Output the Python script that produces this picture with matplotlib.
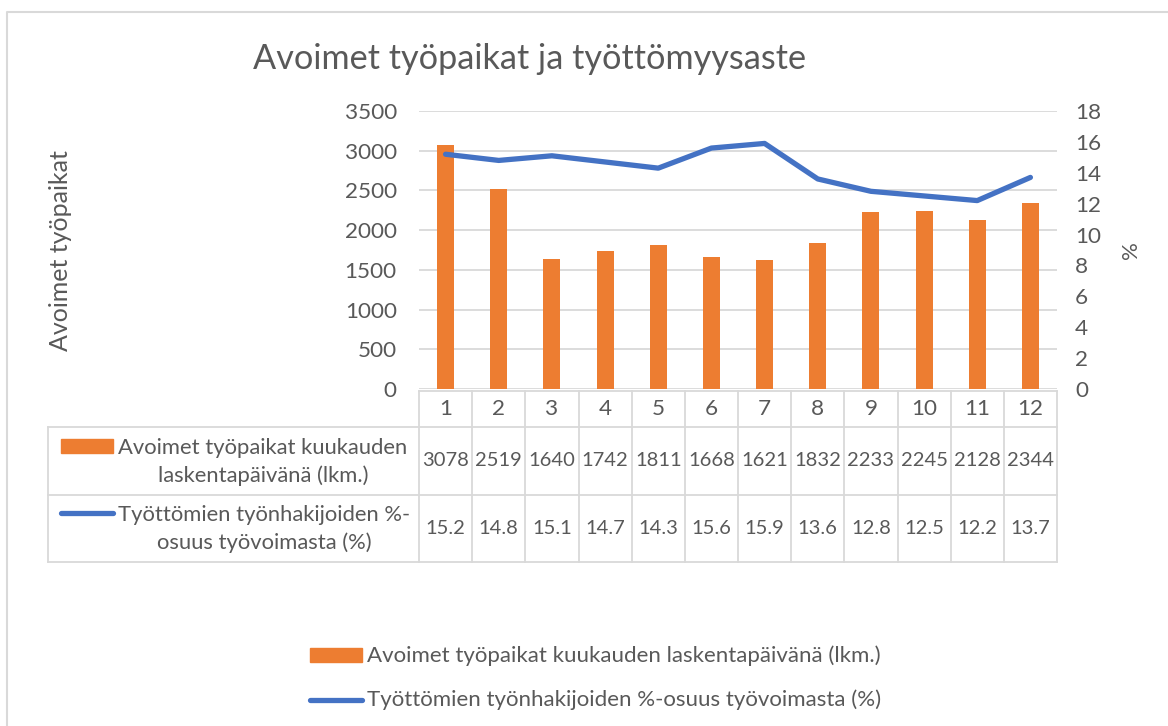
import matplotlib
matplotlib.use("Agg")
import matplotlib.pyplot as plt
from matplotlib.transforms import blended_transform_factory
from matplotlib.patches import Rectangle
from matplotlib.lines import Line2D

plt.rcParams['font.family'] = ['Lato', 'DejaVu Sans']

# ---- data ----
months = ['1', '2', '3', '4', '5', '6', '7', '8', '9', '10', '11', '12']
vacancies = [3078, 2519, 1640, 1742, 1811, 1668, 1621, 1832, 2233, 2245, 2128, 2344]
unemployment = [15.2, 14.8, 15.1, 14.7, 14.3, 15.6, 15.9, 13.6, 12.8, 12.5, 12.2, 13.7]
bar_label = 'Avoimet työpaikat kuukauden laskentapäivänä (lkm.)'
line_label = 'Työttömien työnhakijoiden %-osuus työvoimasta (%)'
bar_label_table = 'Avoimet työpaikat kuukauden\nlaskentapäivänä (lkm.)'
line_label_table = 'Työttömien työnhakijoiden %-\nosuus työvoimasta (%)'
title = 'Avoimet työpaikat ja työttömyysaste'
ylabel_left = 'Avoimet työpaikat'
ylabel_right = '%'
left_ticks = [0, 500, 1000, 1500, 2000, 2500, 3000, 3500]
right_ticks = [0, 2, 4, 6, 8, 10, 12, 14, 16, 18]

ORANGE = '#ED7D31'
BLUE = '#4472C4'
GRID = '#D9D9D9'
TXT = '#595959'

W, H = 1168, 726
fig = plt.figure(figsize=(W / 100, H / 100), dpi=100)

# background overlay in pixel coordinates
bg = fig.add_axes([0, 0, 1, 1], zorder=-5)
bg.set_xlim(0, W)
bg.set_ylim(H, 0)
bg.axis('off')

# chart border
bg.plot([7, 7, W + 10], [H + 10, 12, 12], color=GRID, lw=1.5, solid_capstyle='butt')

# plot area
px0, px1, py_top, py_bot = 419, 1057, 111, 389
ax = fig.add_axes([px0 / W, 1 - py_bot / H, (px1 - px0) / W, (py_bot - py_top) / H])
x = list(range(1, len(months) + 1))
ax.bar(x, vacancies, width=0.32, color=ORANGE, zorder=2)
ax.set_xlim(0.5, len(months) + 0.5)
ax.set_ylim(0, 3500)
ax.set_yticks(left_ticks)
ax.set_yticklabels([str(t) for t in left_ticks])
ax.set_xticks([])
ax.grid(axis='y', color=GRID, lw=1.3, zorder=0)
ax.set_axisbelow(True)
for s in ax.spines.values():
    s.set_visible(False)
ax.tick_params(axis='y', length=0, pad=16, labelsize=16.2, labelcolor=TXT)

ax2 = ax.twinx()
ax2.plot(x, unemployment, color=BLUE, lw=3.8, solid_capstyle='round', solid_joinstyle='round', zorder=3)
ax2.set_ylim(0, 18)
ax2.set_yticks(right_ticks)
ax2.set_yticklabels([str(t) for t in right_ticks])
for s in ax2.spines.values():
    s.set_visible(False)
ax2.tick_params(axis='y', length=0, pad=13, labelsize=16.2, labelcolor=TXT)

# title and axis labels
bg.text(530, 59, title, ha='center', va='center', fontsize=24.7, color=TXT)
bg.text(60, 251, ylabel_left, ha='center', va='center', rotation=90, fontsize=18, color=TXT)
bg.text(1131, 250, ylabel_right, ha='center', va='center', rotation=90, fontsize=16, color=TXT)

# data table
tr = blended_transform_factory(ax.transData, bg.transData)
rows_y = [391, 427, 495, 562]
tab_left = 48
lw_t = 1.3
# horizontal lines
bg.plot([px0, px1], [rows_y[0], rows_y[0]], color=GRID, lw=lw_t)
for yy in rows_y[1:]:
    bg.plot([tab_left, px1], [yy, yy], color=GRID, lw=lw_t)
# vertical lines
bg.plot([tab_left, tab_left], [rows_y[1], rows_y[3]], color=GRID, lw=lw_t)
for i in range(len(months) + 1):
    xe = 0.5 + i
    ax.plot([xe, xe], [rows_y[0], rows_y[3]], color=GRID, lw=lw_t, transform=tr, clip_on=False)
for i, m in enumerate(months):
    xc = i + 1
    ax.text(xc, 409, m, transform=tr, ha='center', va='center', fontsize=16.2, color=TXT, clip_on=False)
    ax.text(xc, 461, str(vacancies[i]), transform=tr, ha='center', va='center', fontsize=14.5, color=TXT, clip_on=False)
    ax.text(xc, 529, f'{unemployment[i]:.1f}', transform=tr, ha='center', va='center', fontsize=14.5, color=TXT, clip_on=False)

# table row headers with legend keys
bg.add_patch(Rectangle((61, 439), 52, 14, color=ORANGE))
bg.text(263, 462, bar_label_table, ha='center', va='center', fontsize=15.8, color=TXT, linespacing=1.4)
bg.add_line(Line2D([61, 113], [513, 513], color=BLUE, lw=3.8, solid_capstyle='round'))
bg.text(264, 529, line_label_table, ha='center', va='center', fontsize=15.8, color=TXT, linespacing=1.4)

# bottom legend
bg.add_patch(Rectangle((310, 648), 52, 14, color=ORANGE))
bg.text(367, 656, bar_label, ha='left', va='center', fontsize=16, color=TXT)
bg.add_line(Line2D([310, 362], [700, 700], color=BLUE, lw=3.8, solid_capstyle='round'))
bg.text(367, 700, line_label, ha='left', va='center', fontsize=16, color=TXT)

fig.savefig('out.png', dpi=100)
